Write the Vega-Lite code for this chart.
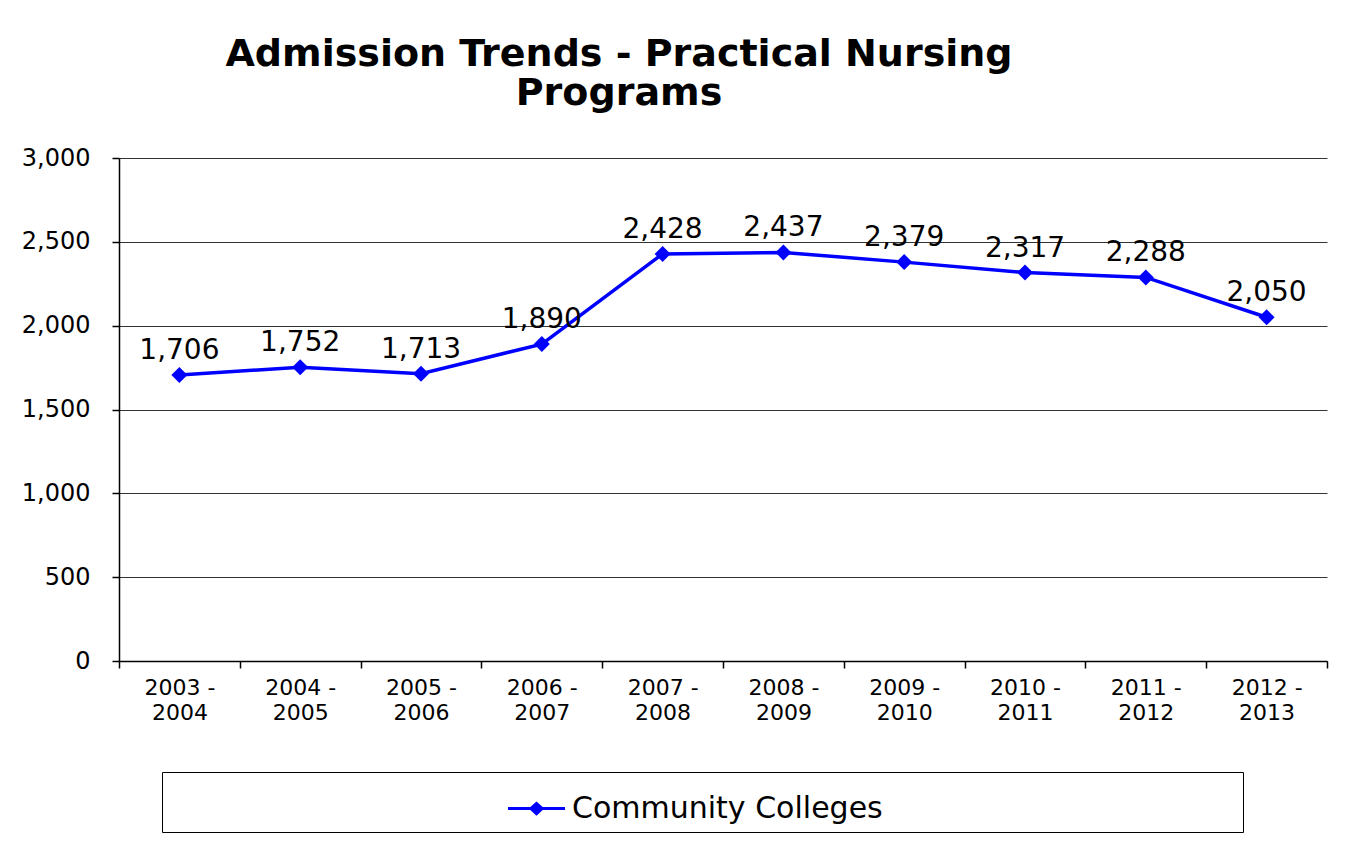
{
  "$schema": "https://vega.github.io/schema/vega-lite/v6.json",
  "autosize": {"type": "none"},
  "width": 1208,
  "height": 503,
  "padding": {"left": 119, "top": 158, "right": 40, "bottom": 206},
  "background": "white",
  "title": {
    "text": ["Admission Trends - Practical Nursing", "Programs"],
    "font": "DejaVu Sans",
    "fontSize": 38,
    "fontWeight": "bold",
    "color": "black",
    "lineHeight": 39,
    "anchor": "middle",
    "frame": "group",
    "dx": -104,
    "offset": 33
  },
  "data": {
    "values": [
      {"year": "2003 - 2004", "admissions": 1706, "series": "Community Colleges"},
      {"year": "2004 - 2005", "admissions": 1752, "series": "Community Colleges"},
      {"year": "2005 - 2006", "admissions": 1713, "series": "Community Colleges"},
      {"year": "2006 - 2007", "admissions": 1890, "series": "Community Colleges"},
      {"year": "2007 - 2008", "admissions": 2428, "series": "Community Colleges"},
      {"year": "2008 - 2009", "admissions": 2437, "series": "Community Colleges"},
      {"year": "2009 - 2010", "admissions": 2379, "series": "Community Colleges"},
      {"year": "2010 - 2011", "admissions": 2317, "series": "Community Colleges"},
      {"year": "2011 - 2012", "admissions": 2288, "series": "Community Colleges"},
      {"year": "2012 - 2013", "admissions": 2050, "series": "Community Colleges"}
    ]
  },
  "encoding": {
    "x": {
      "field": "year",
      "type": "ordinal",
      "sort": null,
      "scale": {"type": "band", "paddingInner": 0, "paddingOuter": 0},
      "axis": {
        "title": null,
        "labelAngle": 0,
        "labelExpr": "[slice(datum.label, 0, 6), slice(datum.label, 7)]",
        "labelFont": "DejaVu Sans",
        "labelFontSize": 22,
        "labelColor": "black",
        "labelLineHeight": 25,
        "labelPadding": 9,
        "tickBand": "extent",
        "tickSize": 7,
        "tickColor": "black",
        "tickWidth": 1.5,
        "domainColor": "black",
        "domainWidth": 1.5,
        "grid": false
      }
    },
    "y": {
      "field": "admissions",
      "type": "quantitative",
      "scale": {"domain": [0, 3000], "nice": false},
      "axis": {
        "title": null,
        "values": [0, 500, 1000, 1500, 2000, 2500, 3000],
        "format": ",.0f",
        "labelFont": "DejaVu Sans",
        "labelFontSize": 24,
        "labelColor": "black",
        "labelPadding": 22,
        "tickSize": 7,
        "tickColor": "black",
        "tickWidth": 1.5,
        "domainColor": "black",
        "domainWidth": 1.5,
        "grid": true,
        "gridColor": "#333333",
        "gridWidth": 1
      }
    }
  },
  "layer": [
    {
      "mark": {
        "type": "line",
        "strokeWidth": 3.5,
        "point": {"shape": "diamond", "size": 256, "filled": true, "opacity": 1}
      },
      "encoding": {
        "color": {
          "field": "series",
          "type": "nominal",
          "scale": {"range": ["#0000FF"]},
          "legend": {
            "title": null,
            "orient": "none",
            "legendX": 43,
            "legendY": 614,
            "padding": 8,
            "strokeColor": "black",
            "fillColor": "white",
            "symbolType": "M-1,-0.055L-0.218,-0.055L0,-0.25L0.218,-0.055L1,-0.055L1,0.055L0.218,0.055L0,0.25L-0.218,0.055L-1,0.055Z",
            "symbolSize": 3249,
            "symbolOffset": 338,
            "labelFont": "DejaVu Sans",
            "labelFontSize": 30,
            "labelColor": "black",
            "labelOffset": 7,
            "labelLimit": 2000,
            "labelExpr": "datum.label + '\u2800\u2800\u2800\u2800\u2800\u2800\u2800\u2800\u2800\u2800\u2800\u2800\u2800\u2800\u2800\u2800'",
            "encode": {
              "symbols": {
                "update": {
                  "fill": {"value": "#0000FF"},
                  "stroke": {"value": "#0000FF"},
                  "strokeWidth": {"value": 0},
                  "opacity": {"value": 1}
                }
              }
            }
          }
        }
      }
    },
    {
      "mark": {
        "type": "text",
        "font": "DejaVu Sans",
        "fontSize": 28,
        "color": "black",
        "baseline": "alphabetic",
        "dy": -16
      },
      "encoding": {
        "text": {"field": "admissions", "type": "quantitative", "format": ","}
      }
    }
  ],
  "config": {
    "view": {"stroke": null}
  }
}
